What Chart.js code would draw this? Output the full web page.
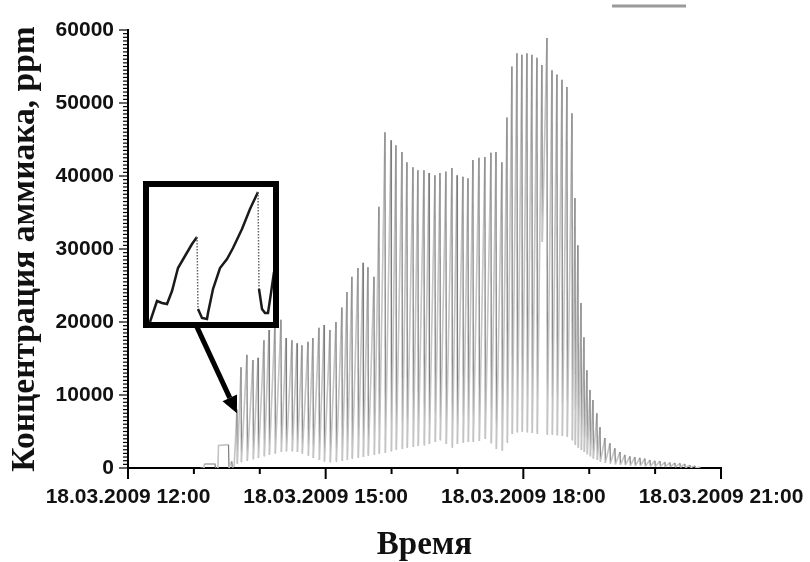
<!DOCTYPE html>
<html>
<head>
<meta charset="utf-8">
<script src="https://cdn.jsdelivr.net/npm/chart.js@4.4.0/dist/chart.umd.min.js"></script>
<style>
  html, body { margin: 0; padding: 0; background: #fff; }
  #wrap { position: relative; width: 810px; height: 562px; }
  #main { display: block; }
  #inset { position: absolute; left: 143px; top: 181px; width: 136px; height: 147px;
           border: 6px solid #000; box-sizing: border-box; background: #fff; }
  #insetCanvas { display: block; }
</style>
</head>
<body>
<div id="wrap">
  <canvas id="main" width="810" height="562"></canvas>
  <div id="inset"><canvas id="insetCanvas" width="124" height="135"></canvas></div>
</div>
<script>
// x axis is hours of 18.03.2009
var dateLabel = '18.03.2009';
var xMin = 12, xMax = 21, xStep = 3;
var yMin = 0, yMax = 60000, yStep = 10000;

// start-up before the regular cycling: minutes after 12:00, ppm
var startMin = [66, 69.2, 69.6, 79.2, 79.7, 81.9, 82.4, 91.5, 92.0, 94.5, 95.0];
var startVal = [0, 0, 550, 550, 0, 0, 3100, 3200, 0, 900, 100];

// each cycle: slow rise from trough to peak, then sharp drop
// peak times, minutes after 12:00
var peakMin = [
  99.2, 102.9, 108.3, 113.8, 118.4, 123.8, 128.4, 133.8, 139.3, 143.9,
  149.3, 153.9, 158.4, 163.9, 168.4, 173.9, 178.5, 183.9, 189.4,
  194.8, 199.4, 203.9, 209.4, 214.0, 218.5, 224.0, 228.5, 234.0, 239.5,
  244.0, 249.5, 254.0, 259.5, 264.0, 269.5, 274.1, 279.5, 284.1, 289.5,
  295.0, 299.6, 305.0, 309.6, 314.1, 319.6, 325.0, 330.5, 335.1, 340.5, 345.1,
  349.6, 354.2, 358.7, 363.3, 367.8, 372.4, 376.9, 381.5, 386.1, 390.6,
  395.2, 399.7, 404.3,
  407.0, 409.7, 412.5, 415.2, 417.9, 420.7, 423.4, 427.0, 429.8,
  434.3, 438.9, 443.4, 448.0, 452.5, 457.1, 461.6, 466.2, 470.7, 475.3,
  479.8, 484.4, 488.9, 493.5, 498.0, 502.6, 507.1, 511.7, 516.3, 520.8
];
var peaks = [
  8000, 13800, 15500, 14800, 15100, 17500, 18900, 20000, 20300, 17800,
  17500, 17100, 16800, 17300, 17800, 19200, 19600, 18900, 20000,
  22000, 24100, 26200, 27400, 28100, 27500, 26200, 35800, 46000, 44900,
  44200, 43300, 41900, 41200, 40800, 40800, 40400, 40100, 40400, 40600,
  41100, 40100, 39900, 39700, 42200, 42500, 42600, 43200, 43300, 41900, 48000,
  55000, 56800, 56600, 56800, 56600, 56200, 55200, 58900, 54500, 53900,
  53200, 52200, 48600,
  37000, 30500, 22600, 17900, 13400, 10700, 9300, 7500, 5600,
  4100, 3400, 2700, 2200, 1800, 1600, 1500, 1400, 1300, 1100,
  1000, 950, 800, 750, 700, 650, 550, 400, 300, 150
];
// trough reached just before each peak's rise
var troughs = [
  300, 600, 800, 1000, 1200, 1400, 1600, 1800, 2000, 2200,
  2300, 2300, 2200, 2000, 1700, 1400, 1100, 900, 800,
  900, 1000, 1100, 1300, 1400, 1500, 1700, 1800, 2000, 2100,
  2300, 2500, 2600, 2800, 2900, 3000, 3100, 3300, 3600, 3800,
  3300, 2800, 3300, 3500, 3600, 3600, 3700, 4000, 3400, 2600, 2400,
  3500, 4700, 4900, 5000, 4900, 4800, 4700, 31000, 4600, 4600,
  4500, 4400, 4300,
  3800, 3200, 2800, 2500, 2200, 1900, 1600, 1300, 1100,
  900, 700, 600, 500, 450, 400, 350, 300, 300, 250,
  250, 200, 200, 150, 150, 100, 100, 50, 50, 0
];

// inset: close-up of two cycles (relative units)
var insetX = [1, 8, 13, 18, 23, 29, 36, 43, 48, 49, 53, 58, 59, 64, 71, 78, 84, 93, 101, 109, 110, 113, 116, 119, 122, 125];
var insetY = [0, 21, 19, 18, 31, 54, 66, 78, 85, 13, 4, 3, 9, 33, 54, 63, 74, 93, 113, 130, 33, 13, 9, 9, 29, 50];

// arrow from the inset to the first cycle: [minutes after 12:00, ppm]
var arrowFrom = [61.9, 19600];
var arrowTo = [99.2, 7500];

function hm(m) { return 12 + m / 60; }

var mainPoints = [];
startMin.forEach(function (m, i) {
    mainPoints.push({x: hm(m), y: startVal[i]});
});
peakMin.forEach(function (m, i) {
    var tm = i === 0 ? m - 2.5 : peakMin[i - 1] + 0.4;
    mainPoints.push({x: hm(tm), y: troughs[i]});
    mainPoints.push({x: hm(m), y: peaks[i]});
});
mainPoints.push({x: hm(peakMin[peakMin.length - 1] + 0.4), y: 0});

Chart.defaults.font.family = "'Liberation Sans', Arial, sans-serif";
Chart.defaults.color = '#111';

// tick marks (major + minor), arrow and the cut legend stub
var extras = {
    id: 'extras',
    afterDraw: function (chart) {
        var ctx = chart.ctx;
        var xs = chart.scales.x, ys = chart.scales.y;
        var ax = xs.left, ay = ys.bottom;
        ctx.save();
        ctx.strokeStyle = '#000';

        ctx.lineWidth = 1.2;
        for (var v = yMin; v <= yMax; v += 500) {
            var py = ys.getPixelForValue(v);
            var len = v % yStep === 0 ? 9 : 5;
            ctx.beginPath();
            ctx.moveTo(ax, py);
            ctx.lineTo(ax - len, py);
            ctx.stroke();
        }
        ctx.lineWidth = 2;
        for (var h = xMin; h <= xMax; h++) {
            var px = xs.getPixelForValue(h);
            var tl = (h - xMin) % xStep === 0 ? 11 : 6;
            ctx.beginPath();
            ctx.moveTo(px, ay);
            ctx.lineTo(px, ay + tl);
            ctx.stroke();
        }

        // arrow
        var x0 = xs.getPixelForValue(hm(arrowFrom[0])), y0 = ys.getPixelForValue(arrowFrom[1]);
        var x1 = xs.getPixelForValue(hm(arrowTo[0])), y1 = ys.getPixelForValue(arrowTo[1]);
        var ang = Math.atan2(y1 - y0, x1 - x0);
        var head = 17, half = 8;
        var bx = x1 - head * Math.cos(ang), by = y1 - head * Math.sin(ang);
        ctx.lineWidth = 5;
        ctx.beginPath();
        ctx.moveTo(x0, y0);
        ctx.lineTo(bx, by);
        ctx.stroke();
        ctx.fillStyle = '#000';
        ctx.beginPath();
        ctx.moveTo(x1, y1);
        ctx.lineTo(bx + half * Math.sin(ang), by - half * Math.cos(ang));
        ctx.lineTo(bx - half * Math.sin(ang), by + half * Math.cos(ang));
        ctx.closePath();
        ctx.fill();

        // legend remnant at the cut top edge
        ctx.strokeStyle = '#9a9a9a';
        ctx.lineWidth = 3;
        ctx.beginPath();
        ctx.moveTo(612, 6);
        ctx.lineTo(686, 6);
        ctx.stroke();
        ctx.restore();
    }
};

new Chart(document.getElementById('main').getContext('2d'), {
    type: 'line',
    data: {
        datasets: [{
            data: mainPoints,
            borderColor: '#8a8a8a',
            borderWidth: 1,
            pointRadius: 0,
            fill: false,
            tension: 0,
            segment: {
                // rising part of each cycle drawn lighter and wider, the drop darker
                borderColor: function (c) { return c.p1.parsed.y > c.p0.parsed.y ? '#c4c4c4' : '#7c7c7c'; },
                borderWidth: function (c) { return c.p1.parsed.y > c.p0.parsed.y ? 1.6 : 1.2; }
            }
        }]
    },
    options: {
        responsive: false,
        animation: false,
        layout: {padding: {left: 0, right: 89, top: 30, bottom: 0}},
        plugins: {legend: {display: false}, tooltip: {enabled: false}},
        scales: {
            x: {
                type: 'linear',
                min: xMin,
                max: xMax,
                grid: {display: false},
                border: {color: '#000', width: 2},
                ticks: {
                    stepSize: xStep,
                    autoSkip: false,
                    maxRotation: 0,
                    padding: 9,
                    color: '#111',
                    font: {size: 21, weight: 'bold'},
                    callback: function (v) { return dateLabel + ' ' + v + ':00'; }
                },
                title: {
                    display: true,
                    text: 'Время',
                    color: '#111',
                    font: {family: "'Liberation Serif', 'Times New Roman', serif", size: 33, weight: 'bold', lineHeight: 1},
                    padding: {top: 0, bottom: 0}
                },
                afterFit: function (s) { s.height = 94; s.paddingLeft = 0; s.paddingRight = 0; }
            },
            y: {
                min: yMin,
                max: yMax,
                grid: {display: false},
                border: {color: '#000', width: 2},
                ticks: {
                    stepSize: yStep,
                    padding: 6,
                    color: '#111',
                    font: {size: 21, weight: 'bold'},
                    callback: function (v) { return String(v); }
                },
                title: {
                    display: true,
                    text: 'Концентрация аммиака, ppm',
                    color: '#111',
                    font: {family: "'Liberation Serif', 'Times New Roman', serif", size: 33.5, weight: 'bold', lineHeight: 1.2},
                    padding: {top: 5, bottom: 0}
                },
                afterFit: function (s) { s.width = 128; s.paddingTop = 0; s.paddingBottom = 0; }
            }
        }
    },
    plugins: [extras]
});

// inset close-up
var insetPoints = insetX.map(function (x, i) { return {x: x, y: insetY[i]}; });
new Chart(document.getElementById('insetCanvas').getContext('2d'), {
    type: 'line',
    data: {
        datasets: [{
            data: insetPoints,
            borderColor: '#1a1a1a',
            borderWidth: 2.5,
            pointRadius: 0,
            fill: false,
            segment: {
                borderDash: function (c) { return c.p1.parsed.y < c.p0.parsed.y - 40 ? [1.5, 1.5] : undefined; },
                borderColor: function (c) { return c.p1.parsed.y < c.p0.parsed.y - 40 ? '#666' : undefined; },
                borderWidth: function (c) { return c.p1.parsed.y < c.p0.parsed.y - 40 ? 1.5 : undefined; }
            }
        }]
    },
    options: {
        responsive: false,
        animation: false,
        layout: {padding: 0},
        plugins: {legend: {display: false}, tooltip: {enabled: false}},
        scales: {
            x: {type: 'linear', display: false, min: 0, max: 124},
            y: {display: false, min: 0, max: 135}
        }
    }
});
</script>
</body>
</html>
